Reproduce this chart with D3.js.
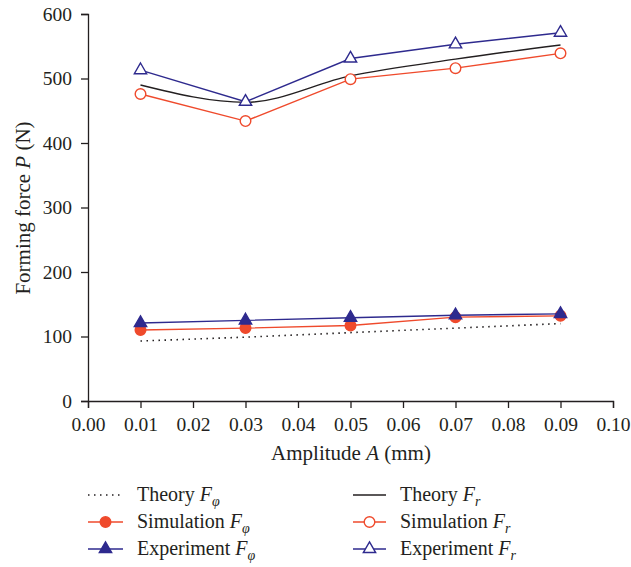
<!DOCTYPE html>
<html>
<head>
<meta charset="utf-8">
<script src="https://cdn.jsdelivr.net/npm/d3@7"></script>
<style>
  body { margin: 0; background: #fff; }
  svg text { font-family: "Liberation Serif", "DejaVu Serif", serif; fill: #231f20; }
</style>
</head>
<body>
<div id="chart"></div>
<script>
/* forming force vs amplitude, line chart with 6 series */

const amplitude = [0.01, 0.03, 0.05, 0.07, 0.09];

const theoryPhi = [93, 99, 106, 113, 120];
const simPhi = [110, 113, 117, 130, 132];
const expPhi = [121, 125, 129, 133, 135];
const theoryR = [490, 463, 504, 530, 552];
const simR = [476, 434, 499, 516, 539];
const expR = [513, 464, 531, 553, 571];

const xTicks = [0, 0.01, 0.02, 0.03, 0.04, 0.05, 0.06, 0.07, 0.08, 0.09, 0.10];
const yTicks = [0, 100, 200, 300, 400, 500, 600];

const red = "#ef4a2c",
      blue = "#2e2a8e";

const width = 631,
      height = 567,
      margin = ({top: 14, right: 18, bottom: 166, left: 88});

let svg = d3.select("#chart")
    .append("svg")
    .attr("width", width)
    .attr("height", height);

let x = d3.scaleLinear()
    .domain([0, 0.1])
    .range([margin.left, width - margin.right]);

let y = d3.scaleLinear()
    .domain([0, 600])
    .range([height - margin.bottom, margin.top]);

// axes
let xAxis = svg.append("g")
    .attr("transform", `translate(0, ${y(0)})`)
    .call(d3.axisBottom(x).tickValues(xTicks).tickFormat(d3.format(".2f")).tickSize(7).tickPadding(9));

let yAxis = svg.append("g")
    .attr("transform", `translate(${x(0)}, 0)`)
    .call(d3.axisLeft(y).tickValues(yTicks).tickSize(7).tickPadding(9));

for (let g of [xAxis, yAxis]) {
    g.attr("font-family", "Liberation Serif, serif").attr("font-size", 19.5);
    g.select(".domain").attr("stroke", "#231f20").attr("stroke-width", 1.3);
    g.selectAll(".tick line").attr("stroke", "#231f20").attr("stroke-width", 1.3);
    g.selectAll(".tick text").attr("fill", "#231f20");
}

// axis titles
let xt = svg.append("text")
    .attr("x", 351)
    .attr("y", 460)
    .attr("text-anchor", "middle")
    .attr("font-size", 21);
xt.append("tspan").text("Amplitude ");
xt.append("tspan").attr("font-style", "italic").text("A");
xt.append("tspan").text(" (mm)");

let yt = svg.append("text")
    .attr("transform", `translate(30, 208) rotate(-90)`)
    .attr("text-anchor", "middle")
    .attr("font-size", 21);
yt.append("tspan").text("Forming force ");
yt.append("tspan").attr("font-style", "italic").text("P");
yt.append("tspan").text(" (N)");

// series
const series = [
    {name: "Theory", sub: "φ", values: theoryPhi, color: "#231f20", dash: "1.5,4.5", marker: null, curve: d3.curveLinear},
    {name: "Simulation", sub: "φ", values: simPhi, color: red, dash: null, marker: "circle", fill: red, curve: d3.curveLinear},
    {name: "Experiment", sub: "φ", values: expPhi, color: blue, dash: null, marker: "triangle", fill: blue, curve: d3.curveLinear},
    {name: "Theory", sub: "r", values: theoryR, color: "#231f20", dash: null, marker: null, curve: d3.curveMonotoneX},
    {name: "Simulation", sub: "r", values: simR, color: red, dash: null, marker: "circle", fill: "#fff", curve: d3.curveLinear},
    {name: "Experiment", sub: "r", values: expR, color: blue, dash: null, marker: "triangle", fill: "#fff", curve: d3.curveLinear}
];

function drawMarker(g, s, cx, cy) {
    if (s.marker === "circle") {
        g.append("circle")
            .attr("cx", cx).attr("cy", cy).attr("r", 5.3)
            .attr("fill", s.fill).attr("stroke", s.color).attr("stroke-width", 1.4);
    } else if (s.marker === "triangle") {
        g.append("path")
            .attr("transform", `translate(${cx},${cy})`)
            .attr("d", d3.symbol(d3.symbolTriangle, 66)())
            .attr("fill", s.fill).attr("stroke", s.color).attr("stroke-width", 1.4);
    }
}

for (let s of series) {
    let line = d3.line()
        .x((d, i) => x(amplitude[i]))
        .y(d => y(d))
        .curve(s.curve);

    svg.append("path")
        .datum(s.values)
        .attr("fill", "none")
        .attr("stroke", s.color)
        .attr("stroke-width", s.dash ? 1.6 : 1.4)
        .attr("stroke-dasharray", s.dash)
        .attr("d", line);

    let g = svg.append("g");
    s.values.forEach((v, i) => drawMarker(g, s, x(amplitude[i]), y(v)));
}

// legend
const legendRows = [495, 522, 549];
const legendCols = [{x1: 88, x2: 123, tx: 137}, {x1: 353, x2: 386, tx: 400}];

series.forEach((s, i) => {
    let col = legendCols[Math.floor(i / 3)],
        row = legendRows[i % 3];
    let g = svg.append("g");
    g.append("line")
        .attr("x1", col.x1).attr("x2", col.x2)
        .attr("y1", row).attr("y2", row)
        .attr("stroke", s.color)
        .attr("stroke-width", s.dash ? 1.6 : 1.4)
        .attr("stroke-dasharray", s.dash);
    drawMarker(g, s, (col.x1 + col.x2) / 2, row);
    let t = g.append("text")
        .attr("x", col.tx)
        .attr("y", row + 6)
        .attr("font-size", 20);
    t.append("tspan").text(s.name + " ");
    t.append("tspan").attr("font-style", "italic").text("F");
    t.append("tspan").attr("font-style", "italic").attr("font-size", 14).attr("dy", 5).text(s.sub);
});
</script>
</body>
</html>
